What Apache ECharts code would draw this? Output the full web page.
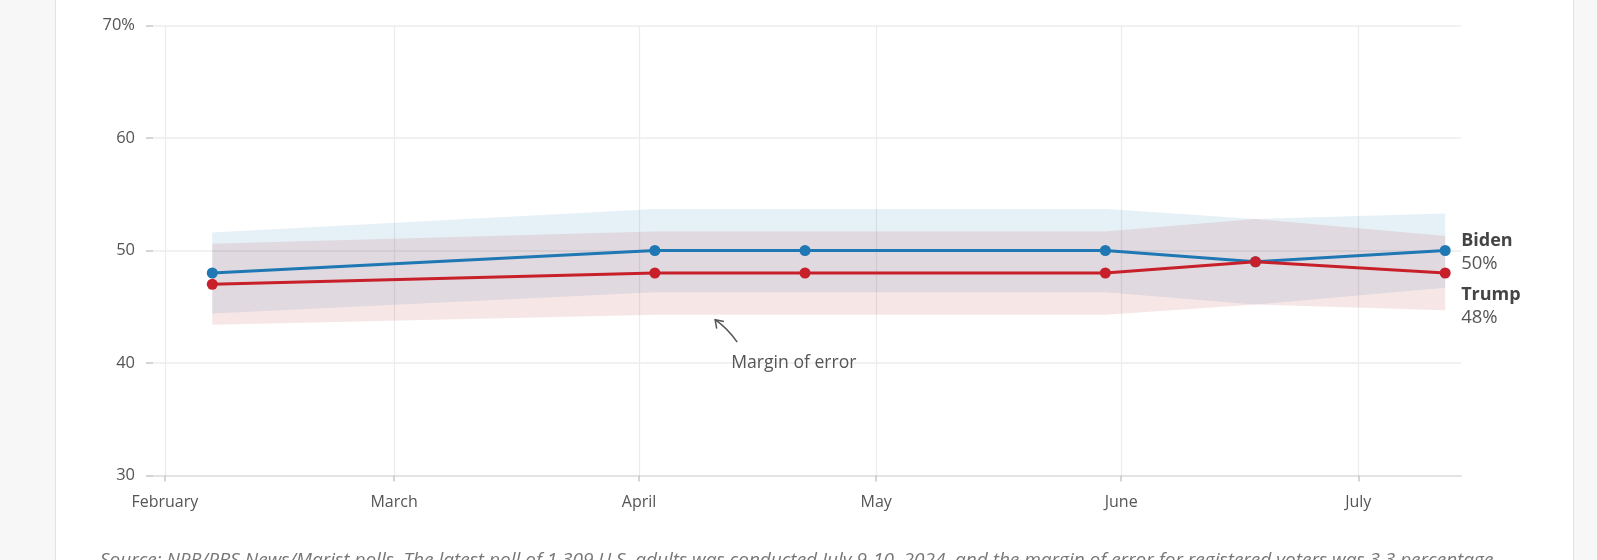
<!DOCTYPE html>
<html>
<head>
<meta charset="utf-8">
<script src="https://cdn.jsdelivr.net/npm/echarts@6/dist/echarts.min.js"></script>
<style>
  html, body { margin: 0; padding: 0; background: #f7f7f7; overflow: hidden; }
  #panel { position: absolute; left: 55px; top: 0; width: 1517px; height: 560px; background: #fff;
           border-left: 1px solid #e3e3e3; border-right: 1px solid #e3e3e3; }
  #chart { position: absolute; left: 0; top: 0; width: 1597px; height: 560px; }
</style>
</head>
<body>
<div id="panel"></div>
<div id="chart"></div>
<script>
// poll dates and results (percent)
const pollDates = ['2024-02-07', '2024-04-03', '2024-04-22', '2024-05-30', '2024-06-18', '2024-07-12'];
const biden = [48, 50, 50, 50, 49, 50];
const trump = [47, 48, 48, 48, 49, 48];
const marginOfError = [3.6, 3.7, 3.7, 3.7, 3.8, 3.3];

// x axis month ticks, y axis range
const monthTicks = ['2024-02-01', '2024-03-01', '2024-04-01', '2024-05-01', '2024-06-01', '2024-07-01'];
const monthNames = ['January', 'February', 'March', 'April', 'May', 'June', 'July', 'August'];
const yTicks = [30, 40, 50, 60, 70];
const xRange = ['2024-01-30T12:00', '2024-07-14T00:00'];

// annotation: [date, value] for text, arrow tail, arrow head
const noteText = ['2024-04-12T16:00', 39.85];
const noteTail = ['2024-04-13T10:00', 41.85];
const noteHead = ['2024-04-10T15:00', 43.85];

const sourceText = 'Source: NPR/PBS News/Marist polls. The latest poll of 1,309 U.S. adults was conducted July 9-10, 2024, and the margin of error for registered voters was 3.3 percentage';

const FONT = '"Open Sans", Roboto, sans-serif';
const BLUE = '#1f78b4';
const RED = '#c8202a';

// local-time timestamp from 'YYYY-MM-DD' or 'YYYY-MM-DDTHH:MM'
const toTime = s => {
  const [d, tm] = s.split('T');
  const p = d.split('-').map(Number);
  const q = tm ? tm.split(':').map(Number) : [0, 0];
  return new Date(p[0], p[1] - 1, p[2], q[0], q[1]).getTime();
};

// margin of error band: polygon through upper edge then back along lower edge
function bandSeries(name, vals, fill) {
  const rows = pollDates.map((d, i) => [toTime(d), vals[i] - marginOfError[i], vals[i] + marginOfError[i]]);
  return {
    name: name, type: 'custom', z: 1, silent: true,
    data: rows,
    encode: { x: 0, y: [1, 2] },
    renderItem: (params, api) => {
      if (params.dataIndex !== 0) return null;
      const upper = rows.map(r => api.coord([r[0], r[2]]));
      const lower = rows.map(r => api.coord([r[0], r[1]])).reverse();
      return { type: 'polygon', shape: { points: upper.concat(lower) }, style: { fill: fill } };
    }
  };
}

function lineSeries(name, vals, color, labelDy) {
  return {
    name: name, type: 'line', z: 5,
    data: pollDates.map((d, i) => [toTime(d), vals[i]]),
    symbol: 'circle', symbolSize: 11,
    lineStyle: { color: color, width: 3 },
    itemStyle: { color: color, borderWidth: 0 },
    endLabel: {
      show: true, distance: 16, offset: [0, labelDy],
      formatter: p => '{n|' + p.seriesName + '}\n{v|' + p.value[1] + '%}',
      rich: {
        n: { fontFamily: FONT, fontSize: 18, fontWeight: 'bold', color: '#444', lineHeight: 23 },
        v: { fontFamily: FONT, fontSize: 18.5, color: '#555', lineHeight: 23 }
      }
    }
  };
}

const chart = echarts.init(document.getElementById('chart'));
chart.setOption({
  animation: false,
  backgroundColor: 'transparent',
  grid: { left: 153, right: 136, top: 25.5, bottom: 84.5 },
  xAxis: {
    type: 'value',
    min: toTime(xRange[0]),
    max: toTime(xRange[1]),
    axisLine: { show: true, lineStyle: { color: '#e3e3e3', width: 2 } },
    axisTick: { show: true, length: 6, lineStyle: { color: '#c8c8c8', width: 1.5 },
                customValues: monthTicks.map(toTime) },
    axisLabel: { customValues: monthTicks.map(toTime), margin: 19,
                 color: '#555', fontFamily: FONT, fontSize: 16,
                 formatter: v => monthNames[new Date(v).getMonth()] },
    splitLine: { show: true, lineStyle: { color: '#ececec', width: 1.2 } }
  },
  yAxis: {
    type: 'value', min: yTicks[0], max: yTicks[yTicks.length - 1], interval: 10,
    axisLine: { show: false },
    axisTick: { show: true, length: 7, lineStyle: { color: '#c8c8c8', width: 1.5 } },
    axisLabel: { margin: 18, color: '#555', fontFamily: FONT, fontSize: 16.5,
                 formatter: v => v === yTicks[yTicks.length - 1] ? v + '%' : String(v) },
    splitLine: { lineStyle: { color: '#ececec', width: 1.5 } }
  },
  series: [
    bandSeries('bidenBand', biden, 'rgba(31,119,180,0.11)'),
    bandSeries('trumpBand', trump, 'rgba(178,32,38,0.115)'),
    lineSeries('Biden', biden, BLUE, 2),
    lineSeries('Trump', trump, RED, 33)
  ]
});

// annotation placed from data coordinates
const pt = v => chart.convertToPixel({ gridIndex: 0 }, [toTime(v[0]), v[1]]);
const t = pt(noteText), a = pt(noteTail), h = pt(noteHead);
const ang = Math.atan2(h[1] - a[1], h[0] - a[0]);
const arm = 9, spread = 0.6;
const tip1 = [h[0] - arm * Math.cos(ang - spread), h[1] - arm * Math.sin(ang - spread)];
const tip2 = [h[0] - arm * Math.cos(ang + spread), h[1] - arm * Math.sin(ang + spread)];

chart.setOption({
  graphic: [
    { type: 'text', left: t[0], top: t[1] - 11, silent: true,
      style: { text: 'Margin of error', font: '17.6px ' + FONT, fill: '#555' } },
    { type: 'bezierCurve', silent: true,
      shape: { x1: a[0], y1: a[1], x2: h[0], y2: h[1],
               cpx1: (a[0] + h[0]) / 2 + 2, cpy1: (a[1] + h[1]) / 2 - 2 },
      style: { stroke: '#555', lineWidth: 1.5, fill: null } },
    { type: 'polyline', silent: true,
      shape: { points: [tip1, h, tip2] },
      style: { stroke: '#555', lineWidth: 1.5, fill: null } },
    { type: 'text', left: 100, top: 551, silent: true,
      style: { text: sourceText, font: 'italic 19px ' + FONT, fill: '#777' } }
  ]
});
</script>
</body>
</html>
